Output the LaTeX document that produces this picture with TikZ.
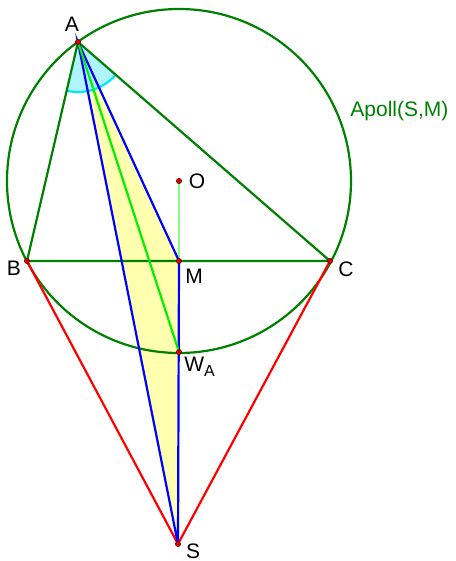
\documentclass[tikz,border=0pt]{standalone}
\usepackage{fontspec}
\setmainfont{Liberation Sans}
\usetikzlibrary{angles,calc}
\definecolor{circD}{HTML}{008000}
\definecolor{cevD}{HTML}{0000FF}
\definecolor{tanD}{HTML}{FF0000}
\definecolor{symD}{HTML}{00F000}
\definecolor{axisD}{HTML}{80FF80}
\definecolor{areaF}{HTML}{FFFFB0}
\definecolor{angF}{HTML}{B0F4FF}
\definecolor{angD}{HTML}{00E8F8}
\definecolor{ptF}{HTML}{E00000}
\definecolor{ptD}{HTML}{600000}
\tikzset{
  dot/.style={circle, fill=ptF, draw=ptD, line width=0.3pt, inner sep=0pt, minimum size=2.6pt},
  lab/.style={font=\fontsize{10.5}{12}\selectfont, inner sep=0pt},
  side/.style={draw=circD, line width=1.1pt},
  cev/.style={draw=cevD, line width=1.1pt},
  tang/.style={draw=tanD, line width=1.1pt},
  sym/.style={draw=symD, line width=1.1pt},
}
\begin{document}
\begin{tikzpicture}[x=0.5pt, y=-0.5pt]
\useasboundingbox (0,0) rectangle (455,561);
% points
\coordinate (A) at (78,42);
\coordinate (B) at (27,261);
\coordinate (C) at (330,261);
\coordinate (M) at (179,261);
\coordinate (O) at (179,181);
\coordinate (W) at (179,352);
\coordinate (S) at (178,544);
% filled parts
\fill[areaF] (A) -- (M) -- (S) -- cycle;
\pic[fill=angF, draw=angD, line width=1.1pt, angle radius=25pt] {angle = B--A--C};
% circle
\draw[side] (O) circle[radius=172];
\node[lab, text=circD, anchor=west] (apoll) at (350,111) {Apoll(S,M)};
% triangle
\draw[side] (A) -- (B) -- (C) -- cycle;
\draw[draw=axisD, line width=0.6pt] (O) -- (M);
\draw[tang] (B) -- (S) -- (C);
\draw[cev] (A) -- (M) -- (S) -- cycle;
\draw[sym] (A) -- (W);
% dots
\foreach \p in {A,B,C,M,O,W,S} \node[dot] (d\p) at (\p) {};
% labels
\node[lab] (lA) at (72,24) {A};
\node[lab] (lB) at (14,268) {B};
\node[lab] (lC) at (346,269) {C};
\node[lab] (lO) at (197,181) {O};
\node[lab] (lM) at (194,276) {M};
\node[lab, anchor=west] (lW) at (184,367) {W\raisebox{-0.45ex}{\fontsize{8}{9}\selectfont A}};
\node[lab] (lS) at (193,551) {S};
\end{tikzpicture}
\end{document}
